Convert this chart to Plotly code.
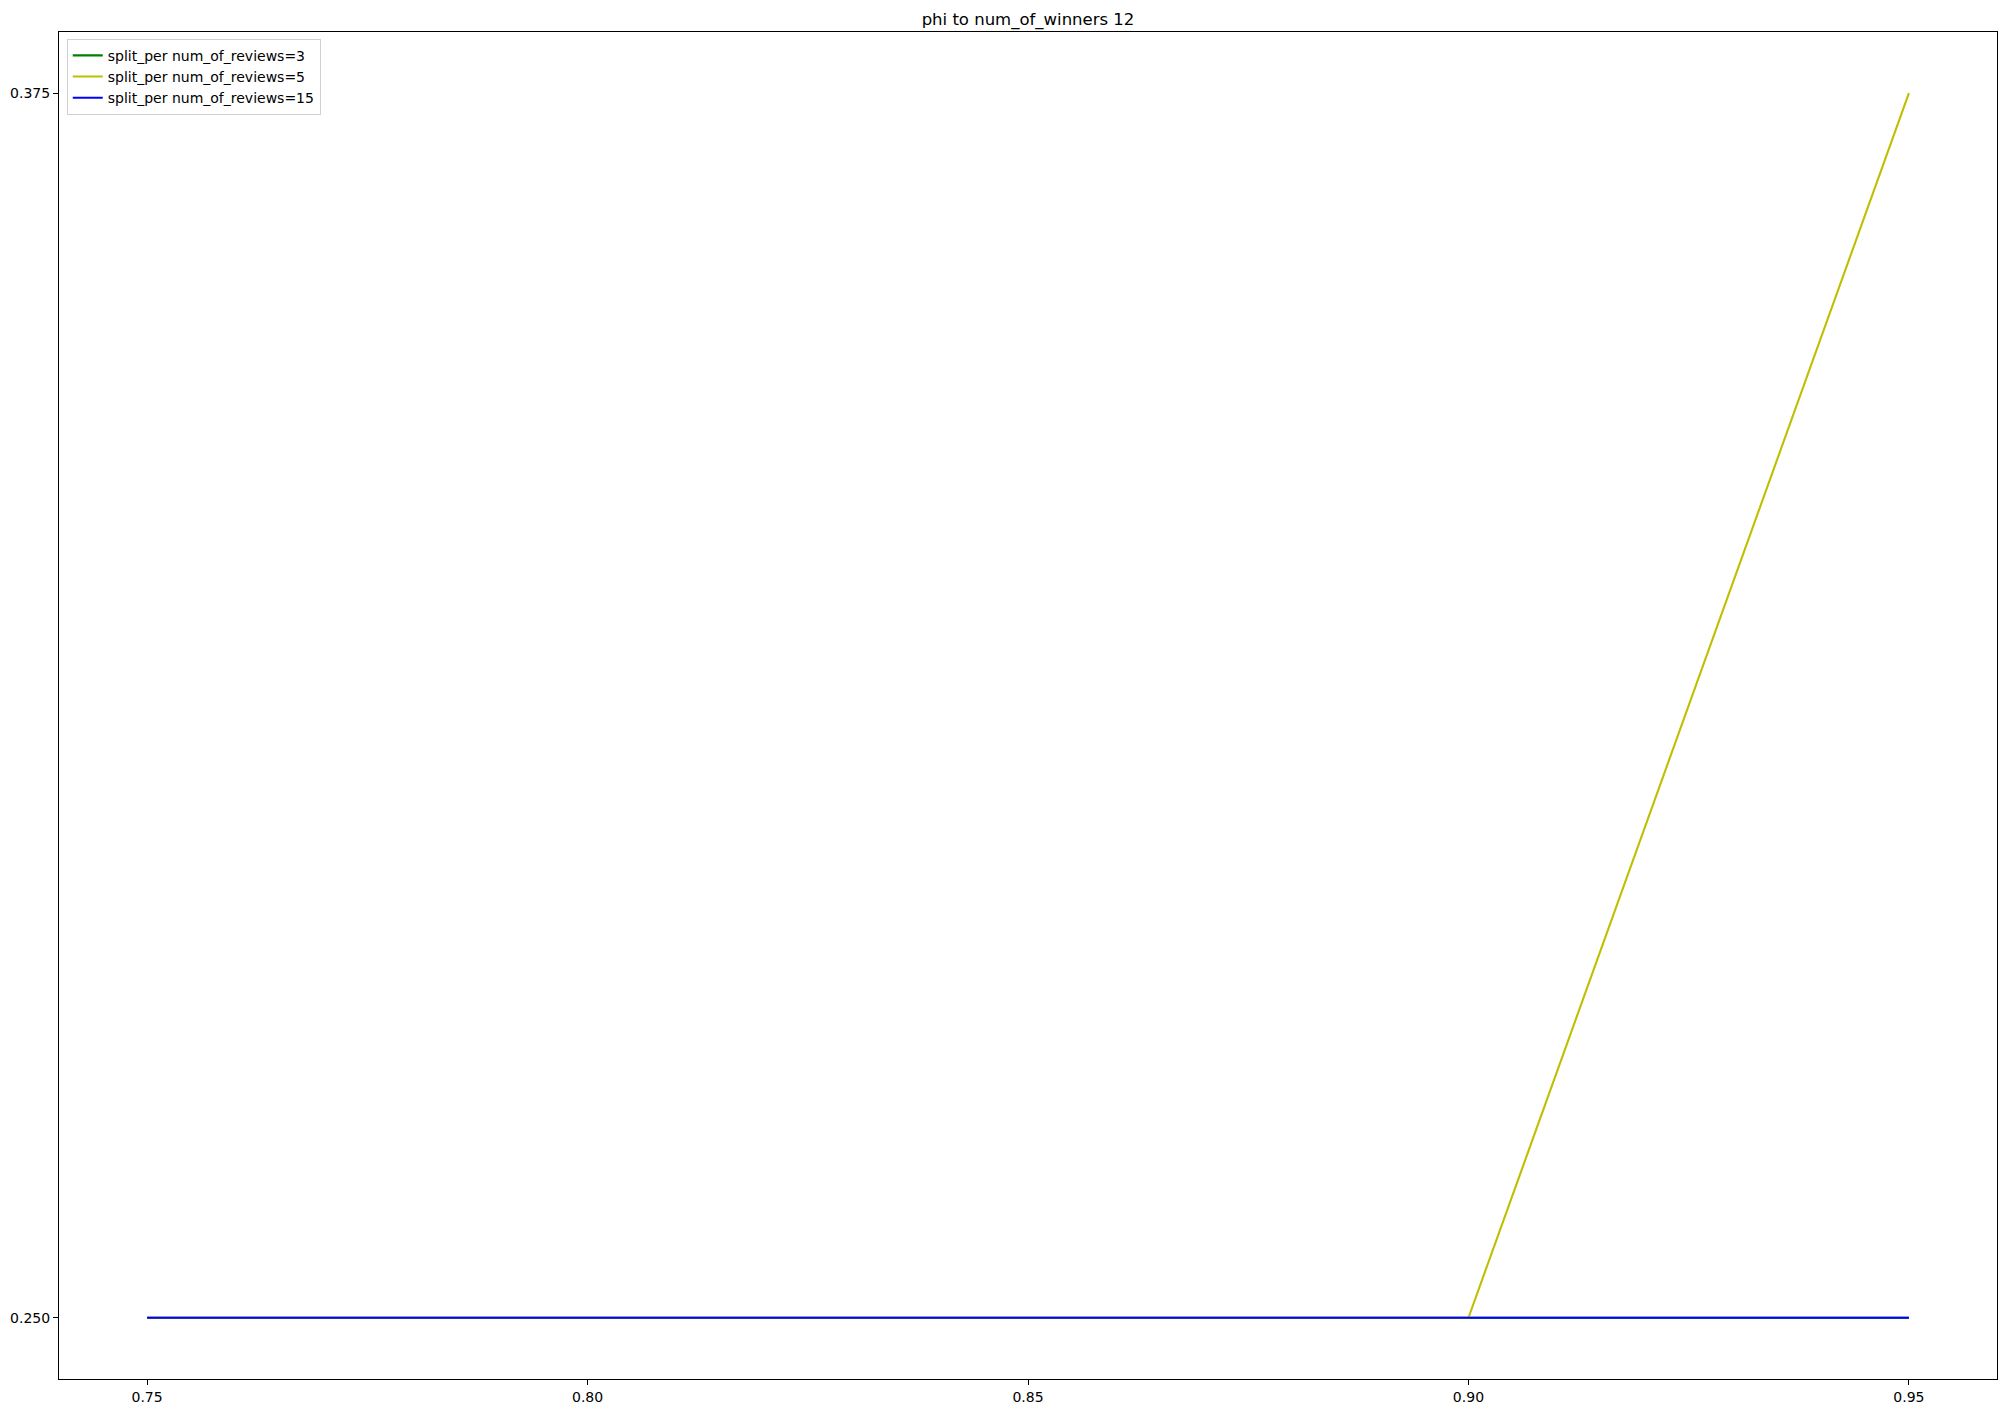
import plotly.graph_objects as go

phi = [0.75, 0.80, 0.85, 0.90, 0.95]
split_reviews_3 = [0.25, 0.25, 0.25, 0.25, 0.25]
split_reviews_5 = [0.25, 0.25, 0.25, 0.25, 0.375]
split_reviews_15 = [0.25, 0.25, 0.25, 0.25, 0.25]

x_ticks = [0.75, 0.80, 0.85, 0.90, 0.95]
x_tick_labels = ["0.75", "0.80", "0.85", "0.90", "0.95"]
y_ticks = [0.25, 0.375]
y_tick_labels = ["0.250", "0.375"]

series = [
    ("split_per num_of_reviews=3", split_reviews_3, "#008000"),
    ("split_per num_of_reviews=5", split_reviews_5, "#bfbf00"),
    ("split_per num_of_reviews=15", split_reviews_15, "#0000ff"),
]

fig = go.Figure()
for name, vals, color in series:
    fig.add_trace(go.Scatter(x=phi, y=vals, mode="lines", name=name,
                             line=dict(color=color, width=2.1)))

W, H = 2006, 1413
ml, mr, mt, mb = 59, 9, 32, 34

fig.update_layout(
    width=W, height=H,
    margin=dict(l=ml, r=mr, t=mt, b=mb, autoexpand=False),
    paper_bgcolor="white", plot_bgcolor="white",
    font=dict(family="DejaVu Sans", size=14, color="black"),
    title=dict(text="phi to num_of_winners 12", x=0.5, xref="paper",
               y=1 - 19 / H, yanchor="middle", xanchor="center",
               font=dict(size=16.5)),
    showlegend=True,
    legend=dict(x=0.004, y=0.995, xanchor="left", yanchor="top",
                bgcolor="rgba(255,255,255,0.8)", bordercolor="#d0d0d0",
                borderwidth=1, font=dict(size=14)),
    xaxis=dict(range=[0.74, 0.96], tickvals=x_ticks, ticktext=x_tick_labels,
               showgrid=False, zeroline=False, showline=True, linecolor="black",
               linewidth=1.1, mirror=True, ticks="outside", ticklen=5,
               tickwidth=1.1, tickcolor="black"),
    yaxis=dict(range=[0.24375, 0.38125], tickvals=y_ticks, ticktext=y_tick_labels,
               showgrid=False, zeroline=False, showline=True, linecolor="black",
               linewidth=1.1, mirror=True, ticks="outside", ticklen=5,
               tickwidth=1.1, tickcolor="black"),
)

fig.write_html("out.html",
               config={"displayModeBar": False},
               post_script="document.body.style.margin='0px';document.body.style.padding='0px';")
